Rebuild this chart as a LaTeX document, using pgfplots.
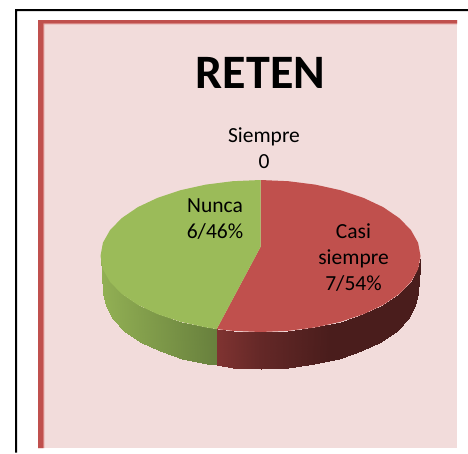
\documentclass[border=0pt]{standalone}
\usepackage{pgfplots}
\pgfplotsset{compat=1.18}
\usepackage{fontspec}
\setmainfont{Carlito}
\definecolor{pinkbg}{HTML}{F2DCDB}
\definecolor{redb}{HTML}{C0504D}
\definecolor{redl}{HTML}{E39C9A}
\definecolor{piered}{HTML}{C0504D}
\definecolor{piegreen}{HTML}{9BBB59}
\begin{document}
\begin{tikzpicture}
\begin{axis}[
  scale only axis, width=468pt, height=453pt,
  xmin=0, xmax=468, ymin=0, ymax=453, y dir=reverse,
  hide axis, clip=true,
  colormap={side}{rgb255(100)=(146,176,84) rgb255(216)=(104,128,61) rgb255(217)=(127,51,49) rgb255(260)=(100,40,39) rgb255(330)=(74,29,28) rgb255(420)=(74,29,28)},
  colormap name=side,
  point meta min=100, point meta max=420,
]
% page
\addplot[fill=white, draw=none] coordinates {(0,0)(468,0)(468,453)(0,453)} --cycle;
% black frame
\addplot[fill=black, draw=none] coordinates {(15,9)(468,9)(468,11)(17.2,11)(17.2,452.5)(15,452.5)} --cycle;
% chart area
\addplot[fill=pinkbg, draw=none] coordinates {(38,20)(457,20)(457,448)(38,448)} --cycle;
\addplot[fill=redl, draw=none] coordinates {(38,20)(457,20)(457,24.3)(44.3,24.3)(44.3,448)(38,448)} --cycle;
\addplot[fill=redb, draw=none] coordinates {(38,20)(457,20)(457,23.3)(43.3,23.3)(43.3,448)(38,448)} --cycle;
% side, green
\addplot[surf, shader=interp, mesh/rows=2, point meta=explicit] table[x=x,y=y,meta=m] {
x y m
100.5 256 100.5
102.9 269.2 102.9
110.1 282 110.1
121.9 294 121.9
137.9 304.9 137.9
157.7 314.2 157.7
180.5 321.8 180.5
205.8 327.4 205.8
216.7 329.1 216
103.5 293 100.5
105.9 306.2 102.9
113 319 110.1
124.5 331 121.9
140.2 341.9 137.9
159.6 351.2 157.7
182 358.8 180.5
206.8 364.4 205.8
216.7 365.1 216
};
% side, red
\addplot[surf, shader=interp, mesh/rows=2, point meta=explicit] table[x=x,y=y,meta=m] {
x y m
216.7 329.1 217
232.7 330.8 232.7
260.5 332 260.5
288.3 330.8 288.3
315.2 327.4 315.2
340.5 321.8 340.5
363.3 314.2 363.3
383.1 304.9 383.1
399.1 294 399.1
410.9 282 410.9
418.1 269.2 418.1
420.5 256 420
216.7 365.1 217
233.2 367.8 232.7
260.5 369 260.5
287.8 367.8 288.3
314.2 364.4 315.2
339 358.8 340.5
361.4 351.2 363.3
380.8 341.9 383.1
396.5 331 399.1
408 319 410.9
415.1 306.2 418.1
417.5 293 420
};
% top, Casi siempre 7
\addplot[fill=piered, draw=none] coordinates {
(260.5,247)(260.5,180)(288.3,181.2)(315.2,184.6)(340.5,190.2)(363.3,197.8)(383.1,207.1)(399.1,218)(410.9,230)(418.1,242.8)(420.5,256)
(418.1,269.2)(410.9,282)(399.1,294)(383.1,304.9)(363.3,314.2)(340.5,321.8)(315.2,327.4)(288.3,330.8)(260.5,332)(232.7,330.8)(216.7,329.1)
} --cycle;
% top, Nunca 6
\addplot[fill=piegreen, draw=none] coordinates {
(260.5,247)(216.7,329.1)(205.8,327.4)(180.5,321.8)(157.7,314.2)(137.9,304.9)(121.9,294)(110.1,282)(102.9,269.2)(100.5,256)
(102.9,242.8)(110.1,230)(121.9,218)(137.9,207.1)(157.7,197.8)(180.5,190.2)(205.8,184.6)(232.7,181.2)(260.5,180)
} --cycle;
\node[font=\fontsize{48}{50}\selectfont\bfseries, anchor=center] at (axis cs:260.5,72.5) {RETEN};
\node[font=\fontsize{21.5}{26}\selectfont, align=center] at (axis cs:264,148) {Siempre\\0};
\node[font=\fontsize{21.5}{26}\selectfont, align=center] at (axis cs:215,219.5) {Nunca\\6/46\%};
\node[font=\fontsize{21.5}{26}\selectfont, align=center] at (axis cs:353.5,258) {Casi\\siempre\\7/54\%};
\end{axis}
\end{tikzpicture}
\end{document}
